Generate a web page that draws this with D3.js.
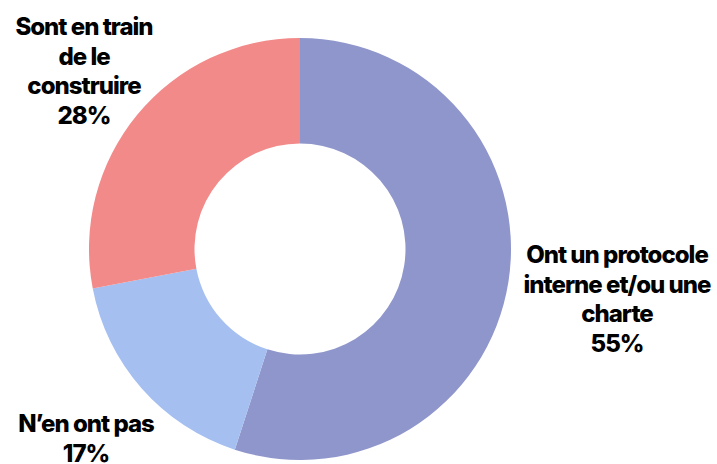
<!DOCTYPE html>
<html><head><meta charset="utf-8">
<script src="https://cdn.jsdelivr.net/npm/d3@7"></script>
<style>
html,body{margin:0;padding:0;background:#fff;}
svg{display:block;}
text{font-family:Inter,"Noto Sans",sans-serif;font-weight:800;fill:#000;}
</style></head>
<body>
<script>
const categories = ["Ont un protocole interne et/ou une charte", "N’en ont pas", "Sont en train de le construire"];
const values = [55, 17, 28];
const labelLines = [["Ont un protocole","interne et/ou une","charte"],["N’en ont pas"],["Sont en train","de le","construire"]];
const colors = ["#8f96cb", "#a4bff0", "#f28a8a"];

const W = 717, H = 464;
const cx = 300, cy = 249, R = 211, r = 105.5;
const svg = d3.select("body").append("svg").attr("width", W).attr("height", H);
const data = categories.map((c,i)=>({cat:c, value:values[i], lines:labelLines[i], color:colors[i]}));
const pie = d3.pie().value(d=>d.value).sort(null);
const arc = d3.arc().innerRadius(r).outerRadius(R);
const g = svg.append("g").attr("transform", `translate(${cx},${cy})`);
g.selectAll("path").data(pie(data)).join("path")
  .attr("d", arc).attr("fill", d=>d.data.color);

// label anchors (center x, first baseline y)
const anchors = [[617, 263], [86, 432], [84, 35]];
const lh = 29.5;
data.forEach((d,i)=>{
  const t = svg.append("text").attr("text-anchor","middle")
    .attr("font-size", 24).attr("letter-spacing", "-1px");
  const lines = d.lines.concat([d.value + "%"]);
  lines.forEach((l,j)=>{
    t.append("tspan").attr("x", anchors[i][0]).attr("y", anchors[i][1] + j*lh).text(l);
  });
});
</script>
</body></html>
